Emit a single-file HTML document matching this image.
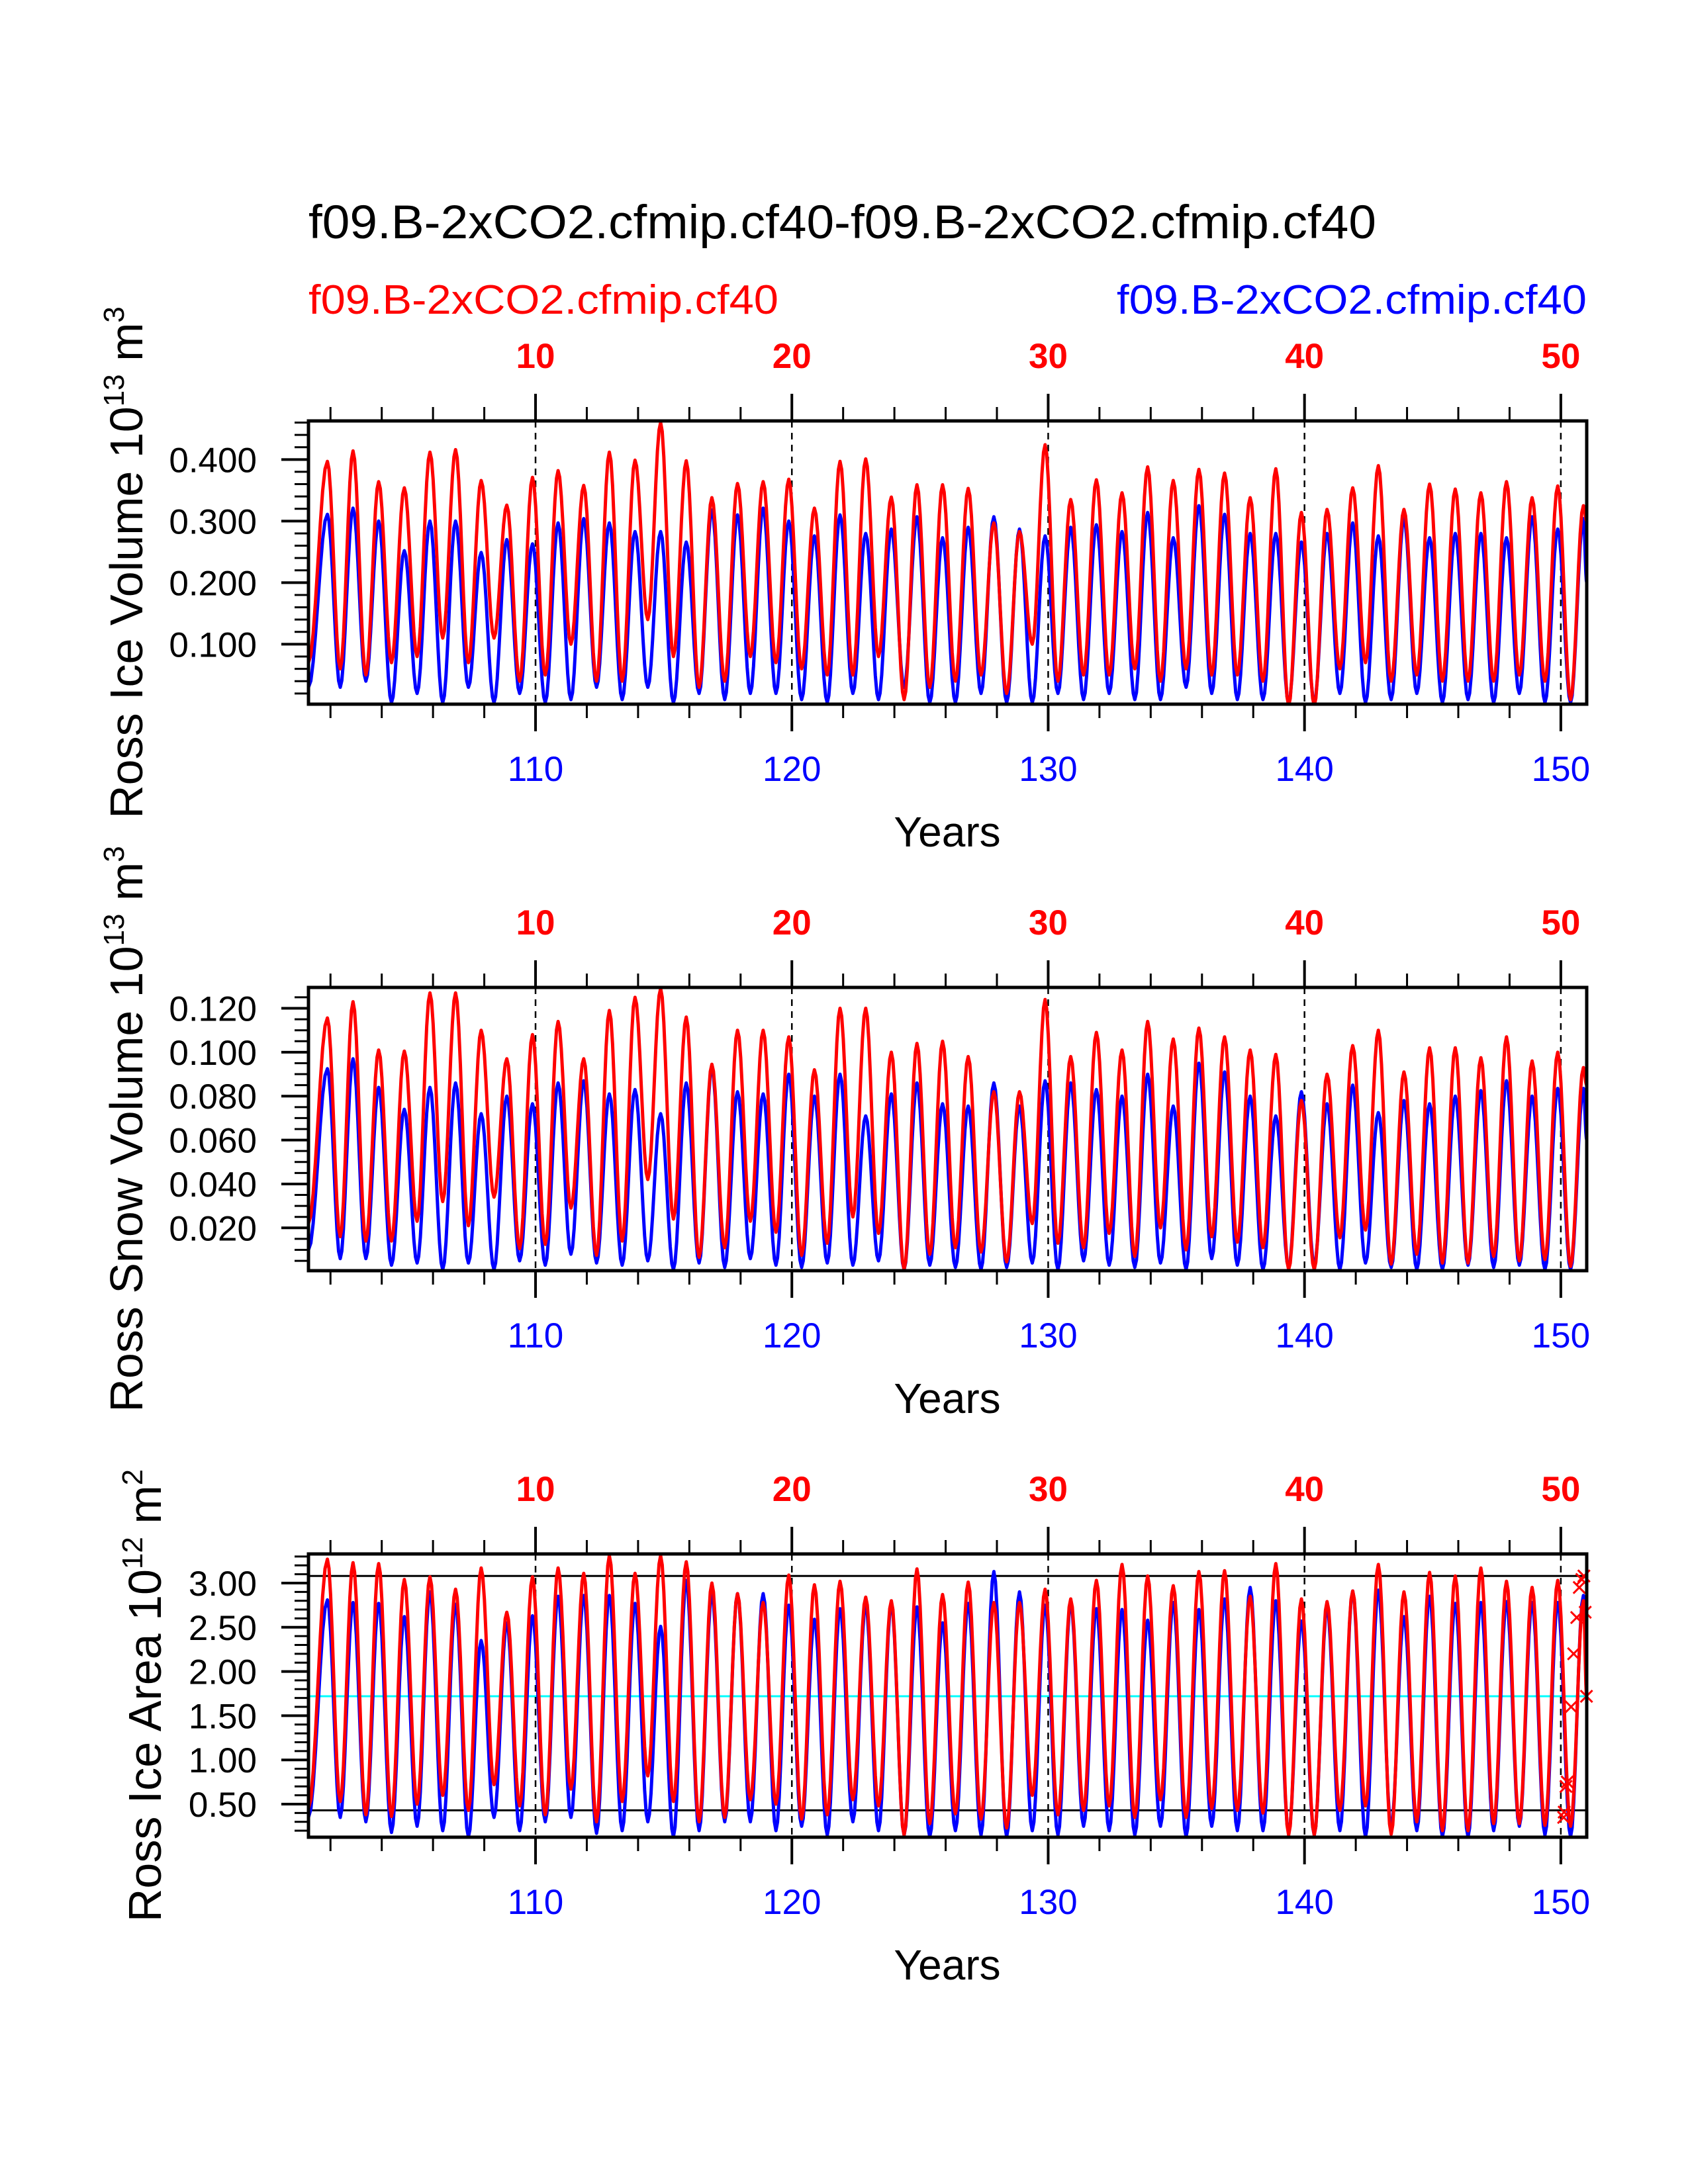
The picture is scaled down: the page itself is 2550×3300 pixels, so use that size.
<!DOCTYPE html>
<html><head><meta charset="utf-8"><style>html,body{margin:0;padding:0;background:#fff}svg{display:block}</style></head>
<body>
<svg id="fig" xmlns="http://www.w3.org/2000/svg" width="2550" height="3300" viewBox="0 0 2550 3300" font-family="'Liberation Sans', sans-serif">
<rect width="2550" height="3300" fill="#fff"/>
<text x="466" y="360" font-size="71" textLength="1613" lengthAdjust="spacingAndGlyphs">f09.B-2xCO2.cfmip.cf40-f09.B-2xCO2.cfmip.cf40</text>
<text x="466" y="474" font-size="62" fill="#f00" textLength="710" lengthAdjust="spacingAndGlyphs">f09.B-2xCO2.cfmip.cf40</text>
<text x="2397" y="474" font-size="62" fill="#00f" text-anchor="end" textLength="710" lengthAdjust="spacingAndGlyphs">f09.B-2xCO2.cfmip.cf40</text>
<g id="panels"></g>
</svg>
<script>
// ---- data: annual peak / trough values ----
const topYears = [10, 20, 30, 40, 50];
const bottomYears = [110, 120, 130, 140, 150];

const iceVolRedPeaks = [0.397,0.414,0.364,0.354,0.412,0.416,0.366,0.326,0.371,0.382,0.358,0.412,0.399,0.460,0.398,0.338,0.361,0.364,0.368,0.321,0.397,0.401,0.339,0.359,0.359,0.353,0.297,0.283,0.424,0.335,0.367,0.346,0.388,0.366,0.384,0.378,0.338,0.385,0.314,0.319,0.354,0.390,0.319,0.360,0.352,0.346,0.364,0.338,0.357,0.325];
const iceVolRedTroughs = [0.06,0.05,0.07,0.08,0.11,0.07,0.11,0.04,0.05,0.10,0.04,0.04,0.14,0.08,0.03,0.04,0.08,0.07,0.06,0.05,0.05,0.08,0.01,0.03,0.04,0.05,0.02,0.10,0.04,0.05,0.05,0.06,0.04,0.06,0.05,0.05,0.04,0.0,0.0,0.06,0.07,0.04,0.05,0.04,0.04,0.04,0.05,0.04,0.01];
const iceVolBluePeaks = [0.311,0.321,0.300,0.252,0.300,0.300,0.249,0.270,0.263,0.297,0.304,0.297,0.283,0.283,0.266,0.318,0.310,0.321,0.300,0.276,0.310,0.280,0.287,0.307,0.273,0.290,0.307,0.287,0.276,0.290,0.294,0.283,0.314,0.273,0.325,0.311,0.280,0.280,0.266,0.280,0.297,0.276,0.304,0.273,0.280,0.280,0.273,0.307,0.287,0.304];
const iceVolBlueTroughs = [0.03,0.04,0.005,0.02,0.005,0.03,0.005,0.02,0.005,0.01,0.03,0.01,0.03,0.005,0.02,0.01,0.02,0.02,0.01,0.005,0.02,0.01,0.03,0.005,0.005,0.02,0.005,0.005,0.02,0.01,0.02,0.01,0.01,0.03,0.02,0.01,0.01,0.005,0.005,0.02,0.005,0.01,0.02,0.005,0.01,0.005,0.02,0.005,0.005];
const iceVolEnds = {redStart:0.07, redEnd:0.30, blueStart:0.03, blueEnd:0.20};

const snowRedPeaks = [0.1156,0.123,0.101,0.1005,0.127,0.127,0.110,0.097,0.108,0.114,0.097,0.119,0.125,0.129,0.116,0.0945,0.110,0.110,0.107,0.092,0.120,0.120,0.100,0.104,0.105,0.098,0.082,0.082,0.124,0.098,0.109,0.101,0.114,0.106,0.111,0.107,0.101,0.099,0.078,0.090,0.103,0.110,0.091,0.102,0.102,0.0975,0.107,0.096,0.100,0.093];
const snowRedTroughs = [0.016,0.014,0.014,0.023,0.032,0.021,0.034,0.0105,0.0125,0.029,0.0075,0.014,0.042,0.024,0.0066,0.011,0.023,0.018,0.0075,0.013,0.025,0.0175,0.001,0.008,0.011,0.009,0.0045,0.022,0.013,0.011,0.0175,0.007,0.020,0.010,0.016,0.0135,0.011,0.001,0.001,0.0155,0.019,0.0035,0.008,0.004,0.004,0.007,0.005,0.0056,0.0025];
const snowBluePeaks = [0.0925,0.097,0.084,0.074,0.084,0.086,0.072,0.080,0.0765,0.086,0.087,0.081,0.083,0.072,0.086,0.093,0.082,0.081,0.090,0.080,0.090,0.071,0.081,0.086,0.0765,0.0755,0.086,0.0755,0.087,0.086,0.083,0.080,0.090,0.0755,0.095,0.091,0.080,0.071,0.082,0.0765,0.085,0.0725,0.078,0.0765,0.080,0.0825,0.087,0.080,0.0835,0.0835];
const snowBlueTroughs = [0.006,0.006,0.003,0.004,0.001,0.004,0.001,0.005,0.003,0.008,0.004,0.003,0.005,0.001,0.004,0.002,0.006,0.003,0.002,0.004,0.003,0.005,0.001,0.003,0.002,0.001,0.002,0.004,0.001,0.005,0.003,0.002,0.004,0.001,0.006,0.003,0.001,0.002,0.003,0.001,0.004,0.002,0.001,0.001,0.003,0.002,0.003,0.001,0.001];
const snowEnds = {redStart:0.022, redEnd:0.085, blueStart:0.01, blueEnd:0.06};

const areaRedPeaks = [3.27,3.23,3.22,3.04,3.07,2.93,3.17,2.67,3.07,3.17,3.11,3.31,3.11,3.31,3.24,3.00,2.88,2.78,3.09,2.98,3.02,2.84,2.80,3.16,2.87,3.01,2.78,2.78,2.93,2.82,3.03,3.21,3.08,2.97,3.13,3.14,2.85,3.22,2.82,2.79,2.91,3.21,2.90,3.12,3.08,3.17,3.02,2.95,3.03,2.80];
const areaRedTroughs = [0.53,0.38,0.36,0.50,0.60,0.43,0.72,0.48,0.38,0.67,0.30,0.53,0.82,0.53,0.30,0.35,0.55,0.50,0.33,0.38,0.55,0.48,0.15,0.28,0.39,0.33,0.23,0.60,0.38,0.43,0.48,0.35,0.55,0.35,0.45,0.43,0.40,0.15,0.15,0.43,0.48,0.16,0.30,0.20,0.20,0.28,0.28,0.26,0.25];
const areaBluePeaks = [2.81,2.78,2.77,2.62,2.90,2.76,2.35,2.55,2.63,2.85,2.86,2.86,2.77,2.51,3.03,2.88,2.88,2.88,2.75,2.59,2.71,2.75,2.76,2.73,2.55,2.77,3.13,2.90,2.75,2.77,2.71,2.70,2.58,2.78,2.70,2.82,2.95,2.80,2.57,2.72,2.91,2.92,2.62,2.85,2.77,2.78,2.79,2.78,2.78,2.86];
const areaBlueTroughs = [0.35,0.30,0.18,0.25,0.20,0.13,0.35,0.20,0.30,0.35,0.17,0.20,0.30,0.13,0.20,0.30,0.30,0.20,0.25,0.15,0.30,0.20,0.15,0.13,0.20,0.15,0.13,0.20,0.15,0.25,0.20,0.15,0.25,0.13,0.25,0.20,0.20,0.18,0.15,0.20,0.13,0.25,0.20,0.13,0.13,0.20,0.25,0.15,0.13];
const areaEnds = {redStart:0.45, redEnd:1.70, blueStart:0.35, blueEnd:2.40};
const areaRefLines = [3.08, 0.43];
const areaMeanLine = 1.72;
const lastYearMarkerTimes = [50.11,50.13,50.2,50.25,50.4,50.5,50.62,50.72,50.82,50.9,50.95,51.0];
const lastYearMarkerValues = [0.35,0.41,0.70,0.75,1.60,2.20,2.61,2.95,3.04,3.08,2.67,1.72];

// ---- layout ----
const X0 = 466, X1 = 2397, T0 = 1.1415, T1 = 51.01;
function xs(t){ return X0 + (t - T0) / (T1 - T0) * (X1 - X0); }
const NS = 'http://www.w3.org/2000/svg';
const root = document.getElementById('panels');
function mk(tag, attrs, parent){
  const e = document.createElementNS(NS, tag);
  for (const k in attrs) e.setAttribute(k, attrs[k]);
  (parent || root).appendChild(e);
  return e;
}

const panels = [
  {key:'ice-volume', top:636, vmin:0.0026, vmax:0.4627, major:[0.1,0.2,0.3,0.4], fmt:v=>v.toFixed(3), minorStep:0.02,
   title:['Ross Ice Volume 10','13',' m','3'], titleX:215,
   redP:iceVolRedPeaks, redT:iceVolRedTroughs, blueP:iceVolBluePeaks, blueT:iceVolBlueTroughs, ends:iceVolEnds},
  {key:'snow-volume', top:1492, vmin:0.0005, vmax:0.1295, major:[0.02,0.04,0.06,0.08,0.1,0.12], fmt:v=>v.toFixed(3), minorStep:0.005,
   title:['Ross Snow Volume 10','13',' m','3'], titleX:215,
   redP:snowRedPeaks, redT:snowRedTroughs, blueP:snowBluePeaks, blueT:snowBlueTroughs, ends:snowEnds},
  {key:'ice-area', top:2348, vmin:0.126, vmax:3.329, major:[0.5,1,1.5,2,2.5,3], fmt:v=>v.toFixed(2), minorStep:0.1,
   title:['Ross Ice Area 10','12',' m','2'], titleX:243,
   redP:areaRedPeaks, redT:areaRedTroughs, blueP:areaBluePeaks, blueT:areaBlueTroughs, ends:areaEnds}
];
const H = 428;

function buildPoints(peaks, troughs, start, end){
  const pts = [[T0, start]];
  for (let k = 1; k <= peaks.length; k++){
    pts.push([k + 0.88, peaks[k-1]]);
    if (k - 1 < troughs.length) pts.push([k + 1.38, troughs[k-1]]);
  }
  pts.push([T1, end]);
  return pts;
}
function curve(pts, ys){
  let d = '';
  for (let i = 0; i < pts.length - 1; i++){
    const [ta, va] = pts[i], [tb, vb] = pts[i+1];
    const n = 8;
    for (let j = (i === 0 ? 0 : 1); j <= n; j++){
      const f = j / n, w = (1 - Math.cos(Math.PI * f)) / 2;
      const t = ta + (tb - ta) * f, v = va + (vb - va) * w;
      d += (d ? 'L' : 'M') + xs(t).toFixed(1) + ',' + ys(v).toFixed(1);
    }
  }
  return d;
}

panels.forEach((p, pi) => {
  const top = p.top, bot = top + H;
  const ys = v => bot - (v - p.vmin) / (p.vmax - p.vmin) * H;
  const g = mk('g', {});
  
  
  const cid = 'clip' + pi;
  const cp = mk('clipPath', {id: cid}, g);
  mk('rect', {x:X0, y:top, width:X1-X0, height:H}, cp);

  if (p.key === 'ice-area'){
    areaRefLines.forEach(v => {
      const l = mk('line', {x1:X0, x2:X1, y1:ys(v), y2:ys(v), stroke:'#000', 'stroke-width':3}, g);
      
      
    });
    const m = mk('line', {x1:X0, x2:X1, y1:ys(areaMeanLine), y2:ys(areaMeanLine), stroke:'#0ff', 'stroke-width':3}, g);
    
    
  }
  topYears.forEach(t => {
    const l = mk('line', {x1:xs(t), x2:xs(t), y1:top, y2:bot, stroke:'#000', 'stroke-width':2.5, 'stroke-dasharray':'10 8'}, g);
    
    
  });
  const blue = mk('path', {d:curve(buildPoints(p.blueP, p.blueT, p.ends.blueStart, p.ends.blueEnd), ys), fill:'none', stroke:'#00f', 'stroke-width':5, 'clip-path':'url(#'+cid+')', 'stroke-linejoin':'round'}, g);
  
  
  const red = mk('path', {d:curve(buildPoints(p.redP, p.redT, p.ends.redStart, p.ends.redEnd), ys), fill:'none', stroke:'#f00', 'stroke-width':5, 'clip-path':'url(#'+cid+')', 'stroke-linejoin':'round'}, g);
  
  

  if (p.key === 'ice-area'){
    lastYearMarkerTimes.forEach((t, i) => {
      const x = xs(t), y = ys(lastYearMarkerValues[i]);
      const mkr = mk('path', {d:`M${x-9},${y-9}L${x+9},${y+9}M${x-9},${y+9}L${x+9},${y-9}`, stroke:'#f00', 'stroke-width':3}, g);
      
      
    });
  }
  const fr = mk('rect', {x:X0, y:top, width:X1-X0, height:H, fill:'none', stroke:'#000', 'stroke-width':5}, g);
  
  

  for (let t = 2; t <= 50; t += 2){
    const maj = t % 10 === 0, len = maj ? 41 : 21;
    mk('line', {x1:xs(t), x2:xs(t), y1:top, y2:top-len, stroke:'#000', 'stroke-width':maj?4:3}, g);
    mk('line', {x1:xs(t), x2:xs(t), y1:bot, y2:bot+len, stroke:'#000', 'stroke-width':maj?4:3}, g);
  }
  topYears.forEach(t => {
    const tx = mk('text', {x:xs(t), y:top-80, 'font-size':53, 'font-weight':'bold', fill:'#f00', 'text-anchor':'middle'}, g);
    tx.textContent = t;
    
    
  });
  bottomYears.forEach((y, i) => {
    const tx = mk('text', {x:xs(topYears[i]), y:bot+116, 'font-size':53, fill:'#00f', 'text-anchor':'middle'}, g);
    tx.textContent = y;
    
    
  });
  const xt = mk('text', {x:1431, y:bot+215, 'font-size':64, 'text-anchor':'middle'}, g);
  xt.textContent = 'Years';
  
  

  const nMin = Math.ceil(p.vmin / p.minorStep - 1e-6), nMax = Math.floor(p.vmax / p.minorStep + 1e-6);
  for (let n = nMin; n <= nMax; n++){
    const v = n * p.minorStep;
    const isMaj = p.major.some(m => Math.abs(m - v) < 1e-9);
    mk('line', {x1:X0, x2:X0-(isMaj?41:21), y1:ys(v), y2:ys(v), stroke:'#000', 'stroke-width':isMaj?4:3}, g);
  }
  p.major.forEach(v => {
    const tx = mk('text', {x:388, y:ys(v)+19, 'font-size':53, 'text-anchor':'end'}, g);
    tx.textContent = p.fmt(v);
    
    
  });
  const cy = (top + bot) / 2;
  const yt = mk('text', {x:0, y:0, 'font-size':70, 'text-anchor':'middle', transform:`translate(${p.titleX},${cy}) rotate(-90)`}, g);
  
  
  const s1 = mk('tspan', {}, yt); s1.textContent = p.title[0];
  const s2 = mk('tspan', {dy:-28, 'font-size':44}, yt); s2.textContent = p.title[1];
  const s3 = mk('tspan', {dy:28}, yt); s3.textContent = p.title[2];
  const s4 = mk('tspan', {dy:-28, 'font-size':44}, yt); s4.textContent = p.title[3];
});
</script>
</body></html>
